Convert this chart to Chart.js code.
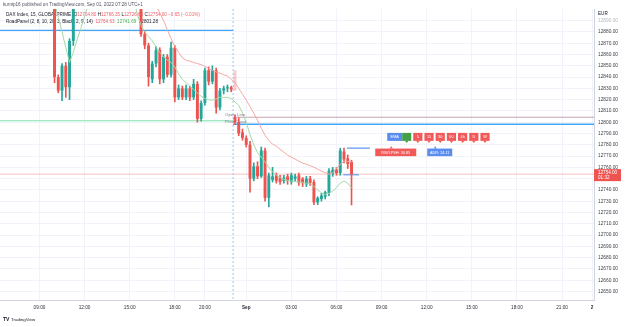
<!DOCTYPE html>
<html>
<head>
<meta charset="utf-8">
<title>DAX Index 15m</title>
<script src="https://cdn.jsdelivr.net/npm/chart.js@4.4.1/dist/chart.umd.min.js"></script>
<style>
  html, body { margin: 0; background: #fff; }
  #box { width: 625px; height: 327px; }
</style>
</head>
<body>
<div id="box"><canvas id="chartDax"></canvas></div>
<script>
// 15m slots on the time axis: Aug 31 06:30 ... Sep 2, the 22:00-23:15 break is skipped
const slotCount = 158;
const sessionBreak = 62;   // first slot of the Sep 1 session
const tickSlots = [10, 22, 34, 46, 54, 65, 77, 89, 101, 113, 125, 137, 149, 157];
const tickText  = ['09:00', '12:00', '15:00', '18:00', '20:00', 'Sep', '03:00', '06:00', '09:00', '12:00', '15:00', '18:00', '21:00', '2'];
const priceTicks = [12650, 12660, 12670, 12680, 12690, 12700, 12710, 12720, 12730, 12740, 12750, 12760, 12770,
                    12780, 12790, 12800, 12810, 12820, 12830, 12840, 12850, 12860, 12870, 12880, 12890];

// candles, slot 14 onwards (bars 20-36 traded above the visible range)
const firstBar = 14;
const open = [12918, 12840, 12828, 12850, 12831, 12872,
  null, null, null, null, null, null, null, null, null, null, null, null, null, null, null, null, null,
  12915, 12878, 12868, 12838, 12852, 12864, 12838, 12858, 12842, 12866, 12822, 12830, 12822, 12830, 12822, 12834,
  12803, 12817, 12846, 12836, 12846, 12813, 12828, 12830, 12831,
  12804, 12800, 12791, 12786, 12780, 12750, 12761, 12752, 12775, 12733, 12749, 12753, 12751, 12748, 12752, 12747,
  12750, 12753, 12750, 12745, 12750, 12747, 12729, 12732, 12734, 12737, 12754, 12758, 12755, 12774, 12768, 12764.8];
const high = [12925, 12842, 12852, 12853, 12874, 12922,
  null, null, null, null, null, null, null, null, null, null, null, null, null, null, null, null, null,
  12920, 12881, 12870, 12854, 12867, 12866, 12860, 12860, 12871, 12868, 12833, 12832, 12833, 12832, 12838, 12836,
  12819, 12848, 12849, 12850, 12848, 12830, 12832, 12833, 12832,
  12806, 12804, 12794, 12788, 12783, 12764, 12765, 12778, 12777, 12755, 12760, 12755, 12753, 12753, 12754, 12755,
  12754, 12755, 12751, 12752, 12752, 12749, 12734, 12737, 12739, 12759, 12760, 12760, 12777, 12777, 12771, 12766.35];
const low = [12835, 12826, 12819, 12822, 12820, 12868,
  null, null, null, null, null, null, null, null, null, null, null, null, null, null, null, null, null,
  12876, 12865, 12832, 12835, 12849, 12834, 12835, 12840, 12840, 12818, 12820, 12820, 12820, 12819, 12820, 12800,
  12801, 12815, 12833, 12834, 12808, 12811, 12825, 12827, 12827,
  12798, 12788, 12784, 12778, 12738, 12748, 12750, 12751, 12730, 12725, 12747, 12746, 12745, 12746, 12745, 12745,
  12748, 12744, 12743, 12743, 12744, 12727, 12727, 12730, 12732, 12735, 12752, 12753, 12753, 12764, 12759, 12726.65];
const close = [12840, 12828, 12850, 12831, 12872, 12918,
  null, null, null, null, null, null, null, null, null, null, null, null, null, null, null, null, null,
  12878, 12868, 12840, 12852, 12864, 12838, 12858, 12842, 12866, 12822, 12830, 12822, 12830, 12822, 12834, 12803,
  12817, 12846, 12836, 12846, 12813, 12828, 12830, 12831, 12829,
  12800, 12790, 12786, 12780, 12750, 12761, 12752, 12775, 12733, 12753, 12752, 12748, 12747, 12751, 12748, 12753,
  12752, 12746, 12746, 12750, 12746, 12729, 12733, 12735, 12738, 12757, 12758, 12755, 12775, 12767, 12763, 12754];

// RoadPanel bands, same slots as the candles
const bandUpper = [null, null, null, null, null, null, null, null, null, null, null, null, null,
  null, null, null, null, null, null, null, null, null, null, null, null,
  12920, 12910, 12903, 12897, 12890, 12882, 12874, 12867, 12862, 12857, 12855, 12854, 12853, 12852, 12851, 12849.5,
  12847.5, 12846, 12844.5, 12843.5, 12842, 12841, 12838,
  12835.4, 12830, 12824.8, 12819.5, 12814, 12808, 12801.8, 12794.7, 12788.5, 12784, 12780.5, 12778.8, 12776, 12773.5,
  12770.8, 12769, 12767.3, 12765.5, 12763.7, 12762.8, 12761.5, 12760.2, 12758.4, 12756.6, 12755.3, 12754, 12754.9,
  12759.3, 12762.8, 12765.5, 12765.2, 12764.63];
const bandLower = [12906, 12893, 12880, 12866, 12853, 12862, 12873, 12883, 12894, 12904, 12915,
  null, null, null, null, null, null, null, null, null, null,
  12910, 12896, 12886, 12880, 12876, 12872, 12867, 12862, 12858, 12855, 12853, 12849, 12843, 12838, 12835, 12832,
  12829, 12826, 12823, 12821, 12820, 12819.5, 12820.5, 12822, 12822, 12822, 12821,
  12818, 12815, 12808, 12800, 12789, 12780, 12773, 12769, 12765, 12760, 12756, 12753, 12751, 12749.5, 12748.5, 12748,
  12747.5, 12747, 12746.5, 12746, 12745.5, 12743, 12740, 12737.5, 12736, 12737, 12739, 12742, 12746, 12748, 12746,
  12741.69];

// faded bar at the session start
const ghostSlot = 62;
const ghostRange = [12828, 12846];

// horizontal levels: price, from slot, to slot
const levelPrice = [12881.4, 12801.28, 12804.4, 12798.2, 12777, 12753.5];
const levelFrom  = [-0.5, -0.5, 61.5, 61.5, 91.8, 90.8];
const levelTo    = [61.5, 61.5, 157.5, 157.5, 97.9, 95];
const levelText  = [null, null, 'Open Line', 'Prev Close', null, null];

const frames = ['5', '15', '30', '60', '4h', 'D', 'W'];

const UP = '#26a69a', DOWN = '#ef5350';
const FONT = '"Liberation Sans", Arial, sans-serif';
const levelStyle = [
  { color: '#42a5f5', width: 1.3 }, { color: '#7fe3ab', width: 1 }, { color: '#c9a3b5', width: 1.2 },
  { color: '#42a5f5', width: 1.3 }, { color: '#7ea9f5', width: 1.5 }, { color: '#7ea9f5', width: 1.5 }
];

const last = open.length - 1;

function slotLabel(i) {
  const m = i < sessionBreak ? 390 + 15 * i : 1395 + 15 * (i - sessionBreak);
  const h = Math.floor(m / 60) % 24, mm = m % 60;
  return String(h).padStart(2, '0') + ':' + String(mm).padStart(2, '0');
}
function full(arr) {
  return Array.from({ length: slotCount }, (_, i) => {
    const k = i - firstBar;
    return k >= 0 && k < arr.length ? arr[k] : null;
  });
}

const o = full(open), h = full(high), l = full(low), c = full(close);
const labels = Array.from({ length: slotCount }, (_, i) => slotLabel(i));
const wicks = o.map((v, i) => v == null ? null : [l[i], h[i]]);
const bodies = o.map((v, i) => v == null ? null : [v, c[i]]);
const colors = o.map((v, i) => v == null ? UP : (c[i] >= v ? UP : DOWN));
const ghost = labels.map((_, i) => i === ghostSlot ? ghostRange : null);

function font(size, weight) { return (weight || '') + ' ' + size + 'px ' + FONT; }

function box(ctx, x0, y0, w, hgt, fill, text, pointer) {
  ctx.fillStyle = fill;
  ctx.fillRect(x0, y0, w, hgt);
  if (pointer) {
    ctx.beginPath();
    if (pointer.dir === 'down') {
      ctx.moveTo(pointer.x - 1.6, y0 + hgt); ctx.lineTo(pointer.x + 1.6, y0 + hgt); ctx.lineTo(pointer.x, y0 + hgt + 2.2);
    } else {
      ctx.moveTo(pointer.x - 1.6, y0); ctx.lineTo(pointer.x + 1.6, y0); ctx.lineTo(pointer.x, y0 - 2.2);
    }
    ctx.fill();
  }
  if (text) {
    ctx.fillStyle = '#fff';
    ctx.font = font(3.8);
    ctx.textAlign = 'center';
    ctx.textBaseline = 'middle';
    ctx.fillText(text, x0 + w / 2, y0 + hgt / 2 + 0.3);
  }
}

const overlay = {
  id: 'overlay',
  beforeDatasetsDraw(chart) {
    const { ctx, chartArea: a, scales: { x, y } } = chart;
    ctx.save();
    ctx.beginPath(); ctx.rect(a.left, a.top, a.width, a.height); ctx.clip();

    // last price line
    const py = y.getPixelForValue(close[last]);
    ctx.strokeStyle = 'rgba(239,83,80,0.35)'; ctx.lineWidth = 1;
    ctx.beginPath(); ctx.moveTo(a.left, py); ctx.lineTo(a.right, py); ctx.stroke();

    // session break
    const bx = x.getPixelForValue(sessionBreak - 0.5);
    ctx.strokeStyle = '#9fc5f3'; ctx.setLineDash([2, 2]);
    ctx.beginPath(); ctx.moveTo(bx, a.top); ctx.lineTo(bx, a.bottom); ctx.stroke();
    ctx.setLineDash([]);

    levelPrice.forEach((p, k) => {
      const yy = y.getPixelForValue(p);
      ctx.strokeStyle = levelStyle[k].color; ctx.lineWidth = levelStyle[k].width;
      ctx.beginPath();
      ctx.moveTo(x.getPixelForValue(levelFrom[k]), yy);
      ctx.lineTo(x.getPixelForValue(levelTo[k]), yy);
      ctx.stroke();
    });

    // legend, sits under the candles
    ctx.font = font(4.6);
    ctx.textAlign = 'left'; ctx.textBaseline = 'middle';
    const dark = '#131722', red = '#f0606a', green = '#4caf50';
    let px = 6;
    const seg = (t, col, yy) => { ctx.fillStyle = col; ctx.fillText(t, px, yy); px += ctx.measureText(t).width; };
    seg('DAX Index, 15, GLOBALPRIME  ', dark, 15);
    seg('O', dark, 15); seg(open[last].toFixed(2) + ' ', red, 15);
    seg('H', dark, 15); seg(high[last].toFixed(2) + ' ', red, 15);
    seg('L', dark, 15); seg(low[last].toFixed(2) + ' ', red, 15);
    seg('C', dark, 15); seg(close[last].toFixed(2) + ' ', red, 15);
    seg('\u22120.65 (\u22120.01%)', red, 15);
    px = 6;
    seg('RoadPanel (2, 8, 10, 20, 3, Black, 2, 9, 14)  ', dark, 22);
    seg(bandUpper[last].toFixed(2) + '  ', red, 22);
    seg(bandLower[last].toFixed(2) + '  ', green, 22);
    seg(levelPrice[1].toFixed(2), dark, 22);
    ctx.restore();
  },
  afterDraw(chart) {
    const { ctx, chartArea: a, scales: { x, y } } = chart;
    ctx.save();
    ctx.textAlign = 'left'; ctx.textBaseline = 'middle';

    ctx.font = font(4.6); ctx.fillStyle = '#50535e';
    ctx.fillText('kurnip16 published on TradingView.com, Sep 01, 2022 07:28 UTC+1', 3, 4.5);

    // level captions
    ctx.font = font(4.4); ctx.fillStyle = '#787b86';
    const bx = x.getPixelForValue(sessionBreak - 0.5);
    levelText.forEach((t, k) => {
      if (t) ctx.fillText(t, bx - 8, y.getPixelForValue(levelPrice[k]) - 2);
    });

    // axis currency + last price tag
    ctx.font = font(4.6); ctx.fillStyle = '#131722';
    ctx.fillText('EUR', a.right + 4, 14);
    const py = y.getPixelForValue(close[last]);
    ctx.fillStyle = '#ef5350';
    ctx.fillRect(a.right, py - 5, 27, 12);
    ctx.fillStyle = '#fff'; ctx.font = font(4.6);
    ctx.fillText(close[last].toFixed(2), a.right + 4, py - 1.8);
    ctx.fillText('01:32', a.right + 4, py + 3.8);

    // RoadPanel signal boxes
    const ax = x.getPixelForValue(102.5);
    const r1 = y.getPixelForValue(12787), r2 = y.getPixelForValue(12773.3);
    box(ctx, ax, r1 - 4, 15, 8, '#5b8def', 'EMA');
    box(ctx, ax + 15, r1 - 4, 9, 8, '#43a047', null, { dir: 'down', x: ax + 19.5 });
    frames.forEach((f, k) => {
      const bx0 = ax + 26 + k * 11.2;
      box(ctx, bx0, r1 - 4, 9.2, 8, '#f25a5a', f, { dir: 'down', x: bx0 + 4.6 });
    });
    box(ctx, ax - 12, r2 - 3.8, 41, 7.6, '#f25a5a', 'RSI/LPSH: 34.85', { dir: 'up', x: ax + 4 });
    box(ctx, ax + 40, r2 - 3.8, 25, 7.6, '#5b8def', 'ADR: 24.11', { dir: 'up', x: ax + 48 });

    // footer logo
    ctx.textAlign = 'left'; ctx.textBaseline = 'middle';
    ctx.fillStyle = '#131722';
    ctx.font = font(5, 'bold'); ctx.fillText('TV', 3, 320);
    ctx.font = font(4.4); ctx.fillText('TradingView', 11, 320);
    ctx.restore();
  }
};

new Chart(document.getElementById('chartDax'), {
  type: 'bar',
  data: {
    labels,
    datasets: [
      { type: 'line', data: full(bandUpper), borderColor: '#f6a7a4', borderWidth: 1, pointRadius: 0, order: 1 },
      { type: 'line', data: full(bandLower), borderColor: '#a5d8a7', borderWidth: 1, pointRadius: 0, order: 1 },
      { data: bodies, backgroundColor: colors, barPercentage: 0.78, categoryPercentage: 1, grouped: false, minBarLength: 1, order: 2 },
      { data: wicks, backgroundColor: colors, barThickness: 1, grouped: false, order: 3 },
      { data: ghost, backgroundColor: 'rgba(239,83,80,0.3)', barPercentage: 0.78, categoryPercentage: 1, grouped: false, order: 4 }
    ]
  },
  options: {
    responsive: true, maintainAspectRatio: false, animation: false, devicePixelRatio: 1, events: [],
    layout: { padding: { top: 9, bottom: 11, left: 0, right: 0 } },
    plugins: { legend: { display: false }, tooltip: { enabled: false } },
    scales: {
      x: {
        type: 'category', offset: true,
        grid: { color: '#f0f3fa', offset: false, drawTicks: false },
        border: { display: true, color: '#d1d4dc' },
        ticks: { autoSkip: false, maxRotation: 0, padding: 5, color: '#2a2e39',
                 font: ctx => ({ family: FONT, size: 4.7, weight: ctx.tick && (ctx.tick.value === 65 || ctx.tick.value === 157) ? 'bold' : 'normal' }),
                 callback: v => tickText[tickSlots.indexOf(v)] ?? '' },
        afterBuildTicks: s => { s.ticks = tickSlots.map(v => ({ value: v })); },
        afterFit: s => { s.height = 16; }
      },
      y: {
        type: 'linear', position: 'right', min: 12642.5, max: 12900.3,
        grid: { color: '#f0f3fa', drawTicks: false },
        border: { display: true, color: '#d1d4dc' },
        ticks: { padding: 4, font: { family: FONT, size: 4.8 },
                 color: ctx => ctx.tick && ctx.tick.value === 12890 ? '#b6b9c2' : '#3b3f4a',
                 callback: v => v.toFixed(2) },
        afterBuildTicks: s => { s.ticks = priceTicks.map(v => ({ value: v })); },
        afterFit: s => { s.width = 31; }
      }
    }
  },
  plugins: [overlay]
});
</script>
</body>
</html>
